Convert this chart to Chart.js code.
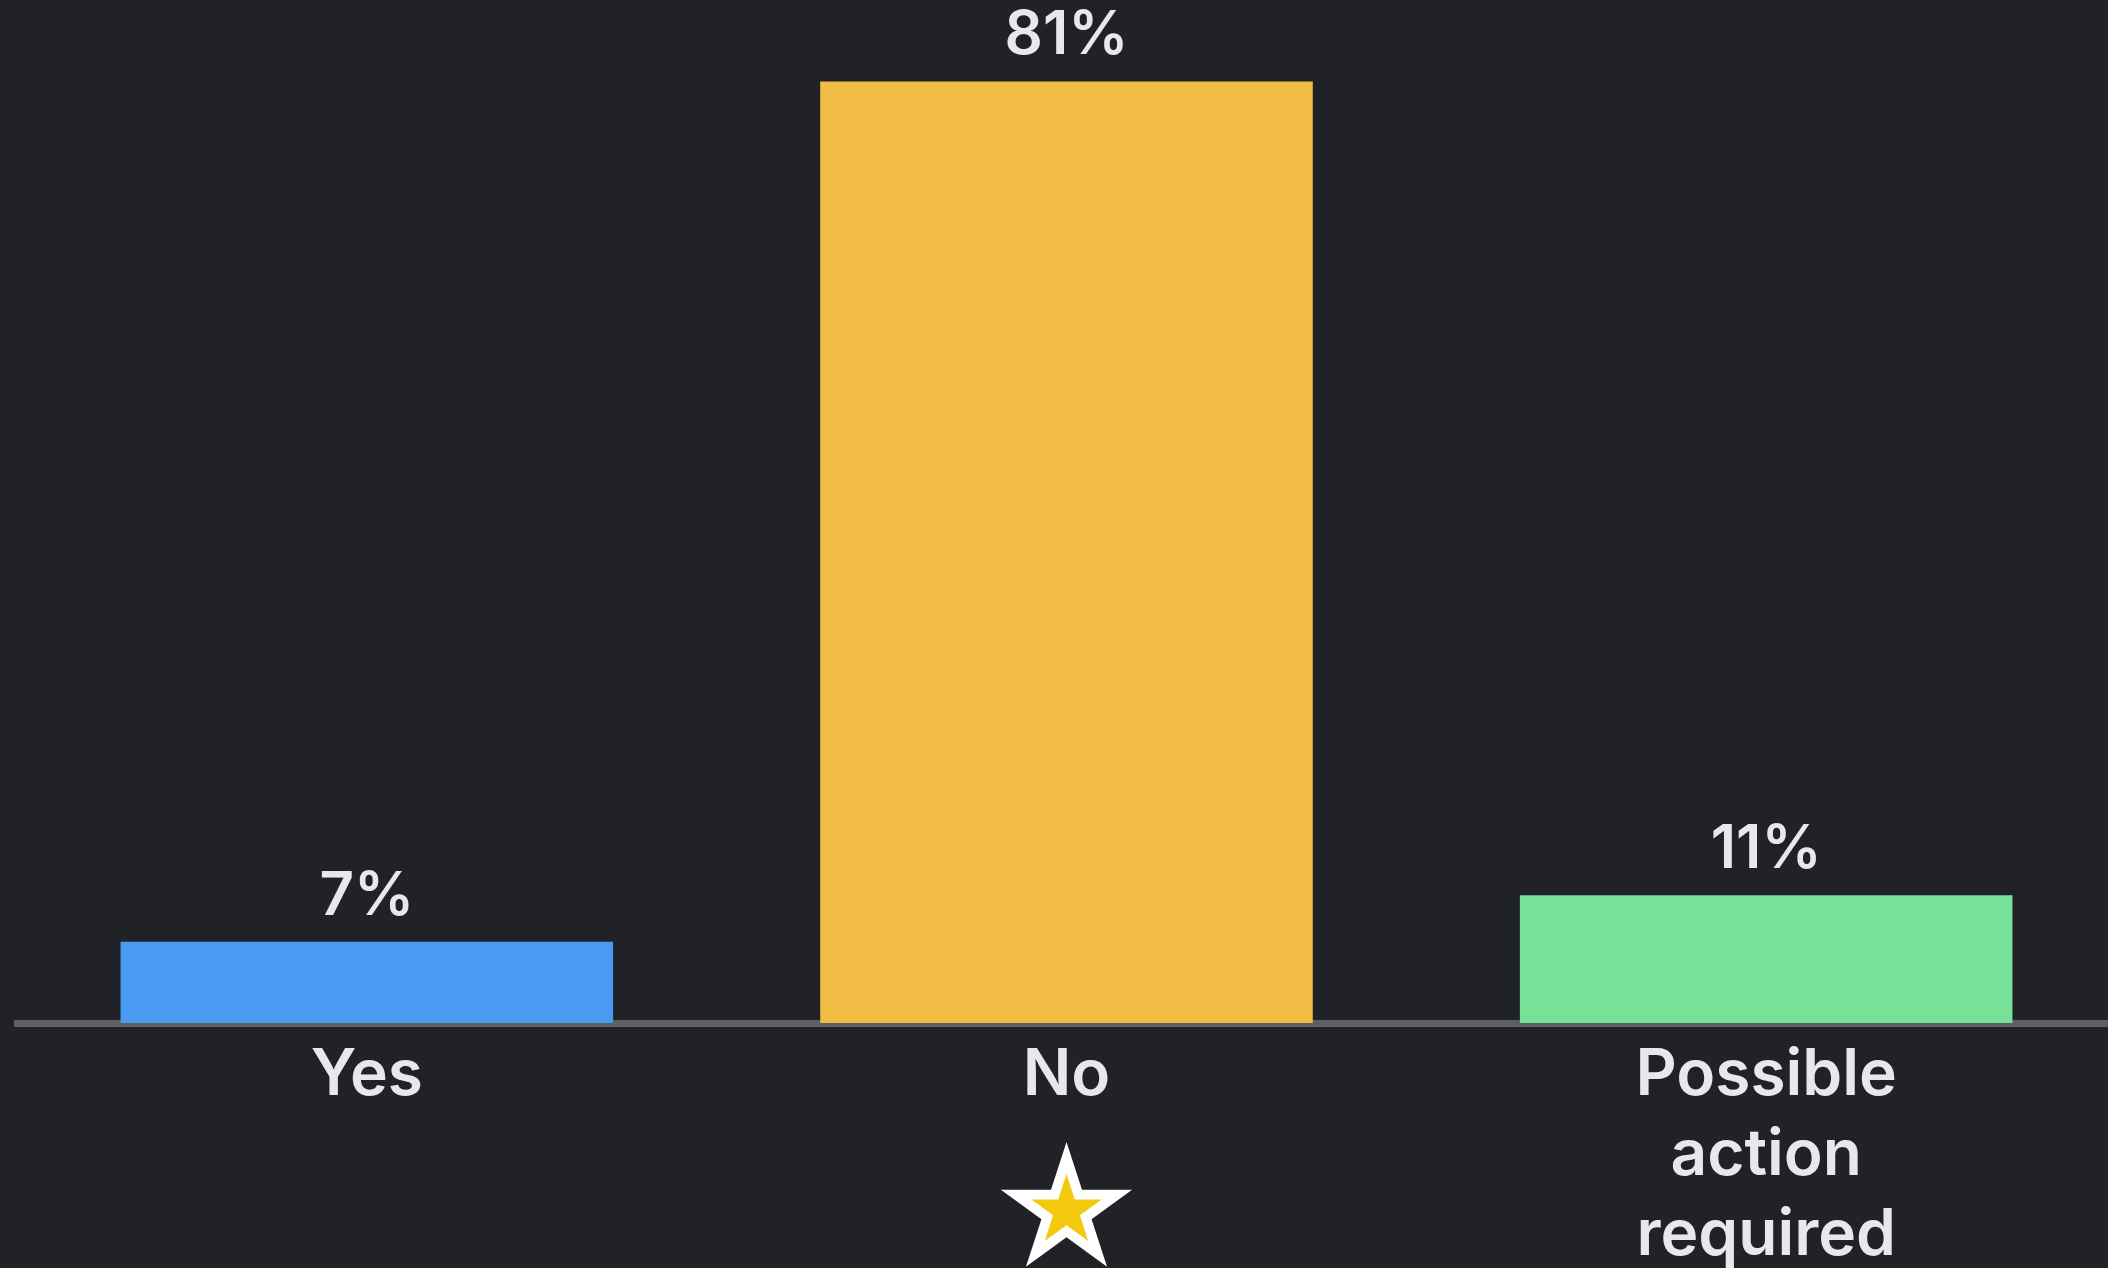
<!DOCTYPE html>
<html>
<head>
<meta charset="utf-8">
<script src="https://cdn.jsdelivr.net/npm/chart.js@4/dist/chart.umd.min.js"></script>
<style>
    html, body { margin: 0; padding: 0; background: #212228; overflow: hidden; }
    #wrap { position: absolute; left: 0; top: 0; width: 2116px; height: 1268px; }
</style>
</head>
<body>
<div id="wrap"><canvas id="pollChart"></canvas></div>
<script>
// --- data ---
const categories = ["Yes", "No", ["Possible", "action", "required"]];
const percents = [7, 81, 11];
const barColors = ["#4a9af1", "#f2bd44", "#77e197"];
const starredIndex = 1; // the "No" answer carries the star

const textColor = "#e8e8ea";

// value labels above the bars
const valueLabels = {
    id: "valueLabels",
    afterDatasetsDraw(chart) {
        const ctx = chart.ctx;
        const meta = chart.getDatasetMeta(0);
        ctx.save();
        ctx.fillStyle = textColor;
        ctx.font = "600 60px Inter";
        ctx.textAlign = "center";
        ctx.textBaseline = "alphabetic";
        meta.data.forEach((bar, i) => {
            ctx.fillText(percents[i] + "%", bar.x, bar.y - 27);
        });
        ctx.restore();
    }
};

// white star with a yellow centre under the starred category
const starMark = {
    id: "starMark",
    afterDraw(chart) {
        const ctx = chart.ctx;
        const cx = chart.scales.x.getPixelForValue(starredIndex);
        const cy = chart.chartArea.bottom + 188;
        const drawStar = (r, color) => {
            ctx.beginPath();
            for (let k = 0; k < 10; k++) {
                const rad = k % 2 === 0 ? r : r * 0.382;
                const a = -Math.PI / 2 + k * Math.PI / 5;
                const px = cx + rad * Math.cos(a);
                const py = cy + rad * Math.sin(a);
                if (k === 0) ctx.moveTo(px, py); else ctx.lineTo(px, py);
            }
            ctx.closePath();
            ctx.fillStyle = color;
            ctx.fill();
        };
        ctx.save();
        drawStar(69, "#ffffff");
        drawStar(37, "#f2c90c");
        ctx.restore();
    }
};

new Chart(document.getElementById("pollChart"), {
    type: "bar",
    data: {
        labels: categories,
        datasets: [{
            data: percents,
            backgroundColor: barColors,
            borderWidth: 0,
            categoryPercentage: 1.0,
            barPercentage: 0.704
        }]
    },
    options: {
        responsive: true,
        maintainAspectRatio: false,
        animation: false,
        layout: { padding: { left: 17, right: 0, top: 0, bottom: 0 } },
        plugins: {
            legend: { display: false },
            tooltip: { enabled: false }
        },
        scales: {
            x: {
                grid: { display: false, drawTicks: false, tickLength: 0 },
                border: { display: true, color: "#5e5f64", width: 7 },
                ticks: {
                    color: textColor,
                    padding: 13,
                    maxRotation: 0,
                    autoSkip: false,
                    font: { family: "Inter", size: 64, weight: "600", lineHeight: "80px" }
                },
                afterFit: scale => { scale.height = 245; }
            },
            y: {
                display: false,
                min: 0,
                max: 88
            }
        }
    },
    plugins: [valueLabels, starMark]
});
</script>
</body>
</html>
